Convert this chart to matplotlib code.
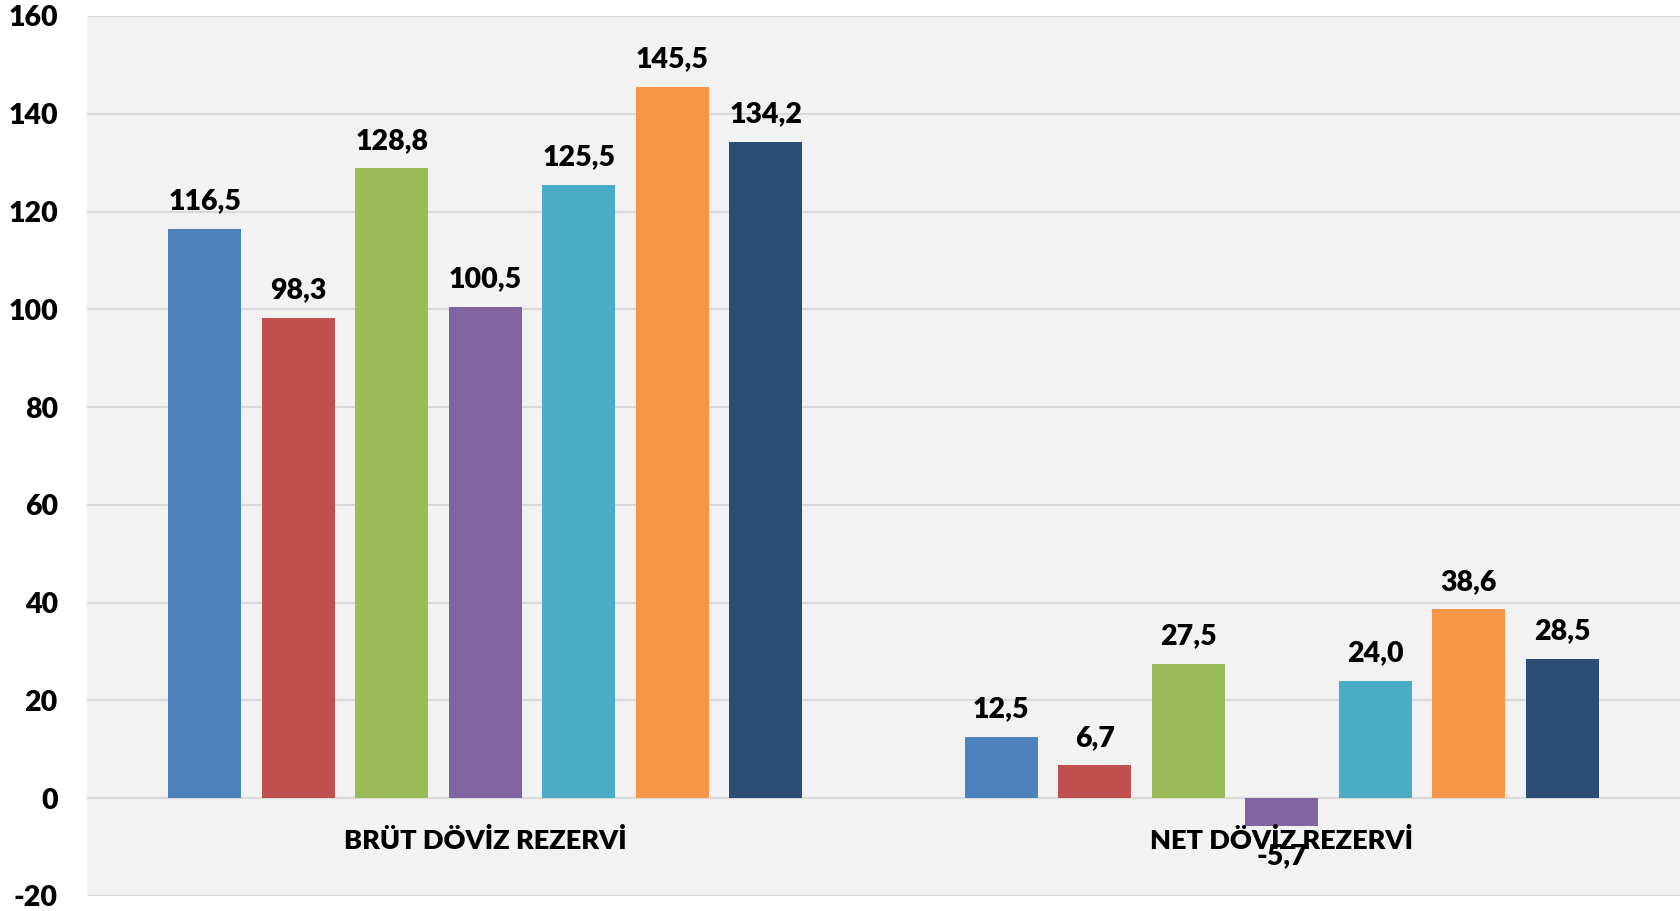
import numpy as np
import matplotlib.pyplot as plt

categories = ['BRÜT DÖVİZ REZERVİ', 'NET DÖVİZ REZERVİ']
brut = [116.5, 98.3, 128.8, 100.5, 125.5, 145.5, 134.2]
net = [12.5, 6.7, 27.5, -5.7, 24.0, 38.6, 28.5]
colors = ['#4F81BD', '#C0504D', '#9BBB59', '#8064A2', '#4BACC6', '#F79646', '#2C4D75']
yticks = [-20, 0, 20, 40, 60, 80, 100, 120, 140, 160]

plt.rcParams['font.family'] = ['Lato', 'DejaVu Sans']
plt.rcParams['font.weight'] = 'heavy'

fig = plt.figure(figsize=(16.8, 9.11), dpi=100)
ax = fig.add_axes([0.0518, 0.0165, 0.9482, 0.966])
ax.set_facecolor('#F2F2F2')

x = np.arange(len(categories))
pitch = 0.1174
width = 0.0917
n = len(brut)
for i in range(n):
    vals = [brut[i], net[i]]
    pos = x + (i - (n - 1) / 2) * pitch
    ax.bar(pos, vals, width, color=colors[i], zorder=2)
    for xp, v in zip(pos, vals):
        lab = f'{v:.1f}'.replace('.', ',')
        if v >= 0:
            ax.annotate(lab, (xp, v), xytext=(0, 10.5), textcoords='offset points',
                        ha='center', va='bottom', fontsize=20.5, fontweight='heavy', zorder=5)
        else:
            ax.annotate(lab, (xp, v), xytext=(0, -12.5), textcoords='offset points',
                        ha='center', va='top', fontsize=20.5, fontweight='heavy', zorder=5)

for xp, name in zip(x, categories):
    ax.annotate(name, (xp, 0), xytext=(0, -21.5), textcoords='offset points',
                ha='center', va='top', fontsize=19.5, fontweight='heavy', zorder=4)

ax.set_xlim(-0.5, 1.5)
ax.set_ylim(-20, 160)
ax.set_yticks(yticks)
ax.set_yticklabels([str(t) for t in yticks], fontsize=20.5, fontweight='heavy')
ax.set_xticks([])
ax.tick_params(axis='y', length=0, pad=21)
ax.set_axisbelow(True)
ax.grid(True, axis='y', color='#D9D9D9', linewidth=1.5)
for s in ax.spines.values():
    s.set_visible(False)

fig.savefig('out.png', dpi=100)
